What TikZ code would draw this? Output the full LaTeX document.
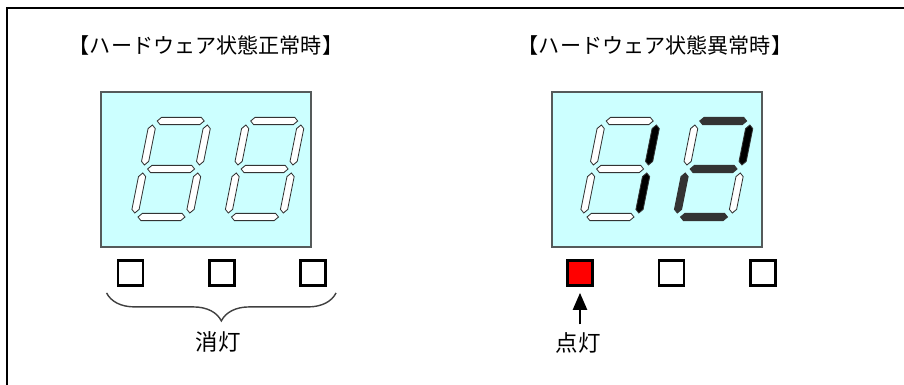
\documentclass[tikz,border=0pt]{standalone}
\usepackage{fontspec}
\usepackage{xcolor}
\usepackage{tikz}
\usetikzlibrary{arrows.meta, positioning, calc, decorations.pathreplacing}

\newfontfamily\jpfont{Noto Sans CJK JP}

\definecolor{lcdbg}{HTML}{CCFFFF}
\definecolor{lcdedge}{HTML}{555A5A}
\definecolor{segdark}{HTML}{333333}
\definecolor{lampred}{HTML}{FF0000}

% segment geometry (px)
\def\segW{55}
\def\segG{4}
\def\segT{3.6}

% horizontal segment: fill, y
\newcommand{\hseg}[2]{%
  \filldraw[seg, fill=#1] (\segG,#2) -- (\segG+\segT,#2+\segT) -- (\segW-\segG-\segT,#2+\segT)
    -- (\segW-\segG,#2) -- (\segW-\segG-\segT,#2-\segT) -- (\segG+\segT,#2-\segT) -- cycle;}
% vertical segment: fill, x, y bottom, y top
\newcommand{\vseg}[4]{%
  \filldraw[seg, fill=#1] (#2,#3+\segG) -- (#2+\segT,#3+\segG+\segT) -- (#2+\segT,#4-\segG-\segT)
    -- (#2,#4-\segG) -- (#2-\segT,#4-\segG-\segT) -- (#2-\segT,#3+\segG+\segT) -- cycle;}
% digit: x, y, then segments a b c d e f g
\newcommand{\segdigit}[9]{%
  \begin{scope}[shift={(#1,#2)}, y=0.025cm, xslant=0.2]
    \hseg{#3}{96}
    \vseg{#4}{\segW}{48}{96}
    \vseg{#5}{\segW}{0}{48}
    \hseg{#6}{0}
    \vseg{#7}{0}{0}{48}
    \vseg{#8}{0}{48}{96}
    \hseg{#9}{48}
  \end{scope}}

\begin{document}
\begin{tikzpicture}[
    x=0.025cm, y=-0.025cm,
    frame/.style={line width=1.4pt, black},
    lcd/.style={rectangle, draw=lcdedge, line width=1.4pt, fill=lcdbg, minimum width=5.25cm, minimum height=3.875cm},
    seg/.style={draw=black!80, line width=0.6pt},
    lamp/.style={rectangle, draw, line width=2pt, fill=white, minimum size=0.625cm, inner sep=0pt},
    title/.style={font=\jpfont\fontsize{15pt}{17pt}\selectfont, inner sep=0pt},
    note/.style={font=\jpfont\fontsize{16pt}{18pt}\selectfont, inner sep=0pt},
    arr/.style={-{Triangle[width=10pt, length=12pt]}, line width=1.4pt},
    brace/.style={decorate, decoration={brace, mirror, amplitude=0.7cm}, line width=1pt, black!75},
]
    \useasboundingbox (0,0) rectangle (904,385);
    \draw[frame] (7,385) -- (7,8) -- (904,8);

    % normal state
    \node[title] (okttl) at (206,45) {【ハードウェア状態正常時】};
    \node[lcd] (oklcd) at (206,169.5) {};
    \segdigit{134}{217}{white}{white}{white}{white}{white}{white}{white}
    \segdigit{227.5}{217}{white}{white}{white}{white}{white}{white}{white}

    \node[lamp] (ok1) at (130.5,273) {};
    \node[lamp, right=1.59cm of ok1] (ok2) {};
    \node[lamp, right=1.59cm of ok2] (ok3) {};
    \draw[brace] ([xshift=-0.25cm, yshift=-0.15cm]ok1.south west) -- ([xshift=0.22cm, yshift=-0.15cm]ok3.south east);
    \node[note] (off) at (218,342) {消灯};

    % error state
    \node[title] (ngttl) at (655,45) {【ハードウェア状態異常時】};
    \node[lcd, right=5.975cm of oklcd] (nglcd) {};
    \segdigit{583}{217}{white}{black}{black}{white}{white}{white}{white}
    \segdigit{676.5}{217}{segdark}{black}{white}{segdark}{segdark}{white}{segdark}

    \node[lamp, fill=lampred] (ng1) at (580,273) {};
    \node[lamp, right=1.59cm of ng1] (ng2) {};
    \node[lamp, right=1.59cm of ng2] (ng3) {};
    \node[note] (lit) at (578,343) {点灯};
    \draw[arr] ([yshift=0.2cm]lit.north -| ng1.south) -- ([yshift=-0.15cm]ng1.south);
\end{tikzpicture}
\end{document}
